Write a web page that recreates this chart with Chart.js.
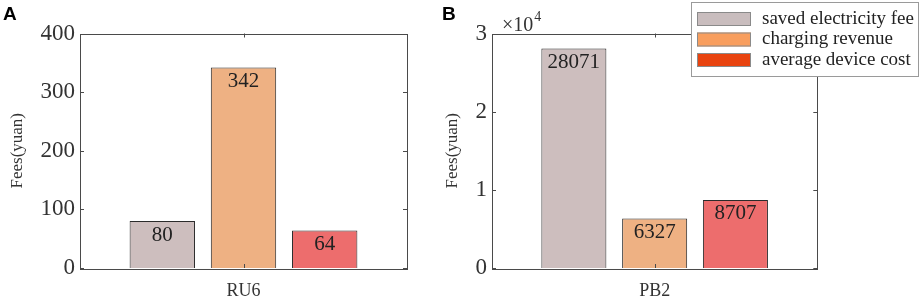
<!DOCTYPE html>
<html>
<head>
<meta charset="utf-8">
<script src="https://cdn.jsdelivr.net/npm/chart.js@4"></script>
<style>
  body { margin: 0; background: #fff; }
  .wrap { position: relative; width: 920px; height: 304px; overflow: hidden; }
  .panel { position: absolute; top: 0; }
</style>
</head>
<body>
<div class="wrap">
  <canvas id="chartA" class="panel" width="430" height="304" style="left:0"></canvas>
  <canvas id="chartB" class="panel" width="490" height="304" style="left:430px"></canvas>
</div>
<script>
const seriesNames = ['saved electricity fee', 'charging revenue', 'average device cost']
const barColors = ['#cdbebe', '#eeb183', '#ed6d6d']
const legendColors = ['#c9bdbe', '#f89e5e', '#e8430f']

const categoriesA = ['RU6']
const feesRU6 = [80, 342, 64]
const ticksA = [0, 100, 200, 300, 400]

const categoriesB = ['PB2']
const feesPB2 = [28071, 6327, 8707]
const ticksB = [0, 1, 2, 3]   // x 10^4

const serif = '"Times New Roman", "Liberation Serif", serif'
const frameColor = '#4a4a4a'

// box, inward ticks, value labels, panel letter, optional exponent + legend
const matlabLook = {
  id: 'matlabLook',
  afterDatasetsDraw(chart, args, opts) {
    const ctx = chart.ctx
    const a = chart.chartArea
    const y = chart.scales.y
    const x = chart.scales.x
    ctx.save()
    ctx.strokeStyle = frameColor
    ctx.lineWidth = 1
    ctx.strokeRect(Math.round(a.left) + 0.5, Math.round(a.top) + 0.5,
      Math.round(a.right - a.left), Math.round(a.bottom - a.top))
    ctx.beginPath()
    y.ticks.forEach(t => {
      const py = Math.round(y.getPixelForValue(t.value)) + 0.5
      ctx.moveTo(a.left, py); ctx.lineTo(a.left + 4, py)
      ctx.moveTo(a.right, py); ctx.lineTo(a.right - 4, py)
    })
    const cx = Math.round(x.getPixelForValue(0)) + 0.5
    ctx.moveTo(cx, a.top); ctx.lineTo(cx, a.top + 4)
    ctx.moveTo(cx, a.bottom); ctx.lineTo(cx, a.bottom - 4)
    ctx.stroke()

    // value labels inside bars
    ctx.fillStyle = '#222'
    ctx.font = '21px ' + serif
    ctx.textAlign = 'center'
    ctx.textBaseline = 'middle'
    chart.data.datasets.forEach((ds, i) => {
      const bar = chart.getDatasetMeta(i).data[0]
      ctx.fillText(String(ds.data[0]), bar.x, bar.y + 14)
    })

    // panel letter
    ctx.font = 'bold 19px Arial, "Liberation Sans", sans-serif'
    ctx.textAlign = 'left'
    ctx.textBaseline = 'alphabetic'
    ctx.fillStyle = '#000'
    ctx.fillText(opts.letter, opts.letterX, 20)

    if (opts.exponent) {
      ctx.fillStyle = '#333'
      ctx.font = '20px ' + serif
      ctx.fillText('\u00d710', a.left + 10, 31)
      const w = ctx.measureText('\u00d710').width
      ctx.font = '14px ' + serif
      ctx.fillText(opts.exponent, a.left + 10 + w + 1, 21)
    }

    if (opts.legend) {
      const L = opts.legend
      ctx.fillStyle = '#fff'
      ctx.fillRect(L.x, L.y, L.w, L.h)
      ctx.strokeStyle = '#9a9a9a'
      ctx.strokeRect(L.x + 0.5, L.y + 0.5, L.w, L.h)
      ctx.font = '19px ' + serif
      ctx.textBaseline = 'middle'
      chart.data.datasets.forEach((ds, i) => {
        const ry = L.y + 17 + i * 20.5
        ctx.fillStyle = legendColors[i]
        ctx.fillRect(L.x + 6, ry - 7, 54, 14)
        ctx.strokeStyle = '#8a8a8a'
        ctx.strokeRect(L.x + 6.5, ry - 6.5, 53, 13)
        ctx.fillStyle = '#222'
        ctx.fillText(ds.label, L.x + 71, ry)
      })
    }
    ctx.restore()
  }
}

function makeChart(id, categories, values, tickValues, scaleBy, layout, extra) {
  const datasets = seriesNames.map((name, i) => ({
    label: name,
    data: [values[i]],
    backgroundColor: barColors[i],
    borderColor: '#2b2b2b',
    borderWidth: 1,
    categoryPercentage: 0.745,
    barPercentage: 0.805
  }))
  return new Chart(document.getElementById(id), {
    type: 'bar',
    data: { labels: categories, datasets: datasets },
    options: {
      responsive: false,
      animation: false,
      devicePixelRatio: 1,
      layout: { padding: layout.padding },
      plugins: {
        legend: { display: false },
        tooltip: { enabled: false },
        matlabLook: extra
      },
      scales: {
        x: {
          grid: { display: false, drawTicks: false },
          border: { display: false },
          ticks: { color: '#333', font: { family: serif, size: 18 }, padding: 12 },
          afterFit(s) { s.height = 36 }
        },
        y: {
          min: tickValues[0] * scaleBy,
          max: tickValues[tickValues.length - 1] * scaleBy,
          grid: { display: false, drawTicks: false },
          border: { display: false },
          afterBuildTicks(s) { s.ticks = tickValues.map(v => ({ value: v * scaleBy })) },
          ticks: {
            color: '#333',
            font: { family: serif, size: 23 },
            padding: 5,
            callback: v => String(v / scaleBy)
          },
          title: {
            display: true,
            text: 'Fees(yuan)',
            color: '#333',
            font: { family: serif, size: 17 },
            padding: { top: layout.titlePad, bottom: 0 }
          },
          afterFit(s) { s.width = layout.yWidth }
        }
      }
    },
    plugins: [matlabLook]
  })
}

makeChart('chartA', categoriesA, feesRU6, ticksA, 1,
  { padding: { top: 33.5, right: 23, bottom: 0, left: 0 }, yWidth: 80, titlePad: 7 },
  { letter: 'A', letterX: 3 })

makeChart('chartB', categoriesB, feesPB2, ticksB, 10000,
  { padding: { top: 33.5, right: 102.7, bottom: 0, left: 0 }, yWidth: 62, titlePad: 12 },
  { letter: 'B', letterX: 12, exponent: '4',
    legend: { x: 261, y: 2, w: 227, h: 74 } })
</script>
</body>
</html>
